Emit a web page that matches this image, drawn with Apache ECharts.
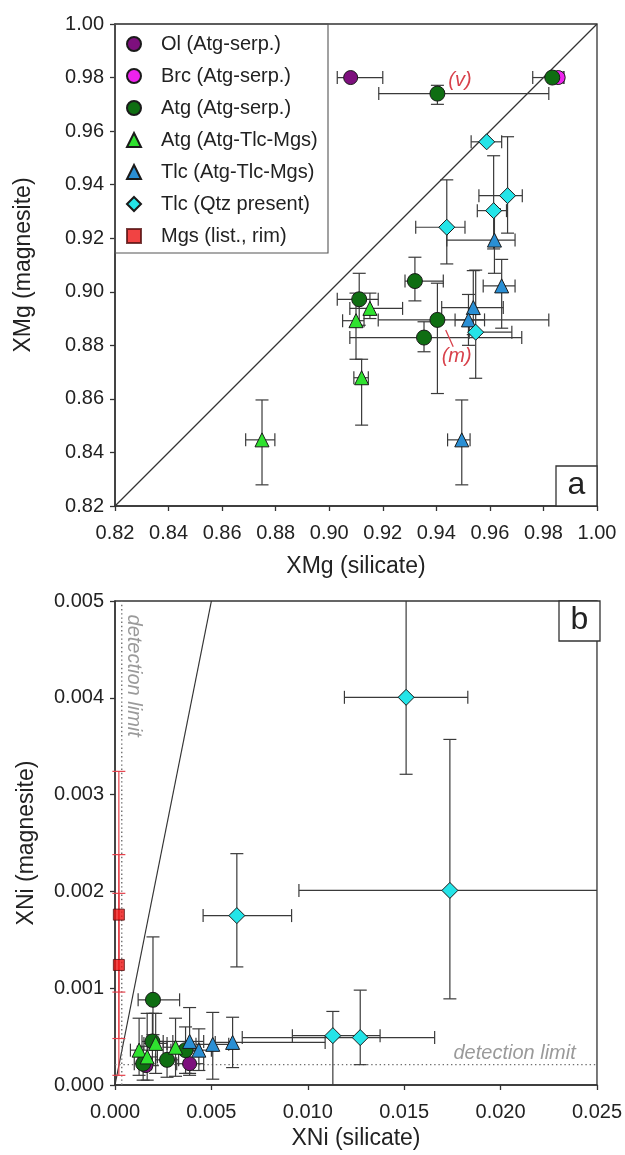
<!DOCTYPE html>
<html>
<head>
<meta charset="utf-8">
<script src="https://cdn.jsdelivr.net/npm/echarts@6/dist/echarts.min.js"></script>
<style>
  html, body { margin: 0; padding: 0; background: #fff; }
  #chart { width: 625px; height: 1155px; }
</style>
</head>
<body>
<div id="chart"></div>
<script>
// ---- categories -------------------------------------------------------
const groupNames = [
  'Ol (Atg-serp.)', 'Brc (Atg-serp.)', 'Atg (Atg-serp.)',
  'Atg (Atg-Tlc-Mgs)', 'Tlc (Atg-Tlc-Mgs)', 'Tlc (Qtz present)', 'Mgs (list., rim)'
];

// ---- panel a: XMg, rows are [x, y, xLow, xHigh, yLow, yHigh] -----------
const mgOl = [[0.908, 0.980, 0.903, 0.920, null, null]];
const mgBrc = [[0.9855, 0.980, 0.983, 0.9877, null, null]];
const mgAtgSerp = [
  [0.9404, 0.974, 0.9185, 0.982, 0.970, 0.9771],
  [0.9833, 0.980, 0.976, 0.9874, null, null],
  [0.9320, 0.9040, 0.9283, 0.9426, 0.8966, 0.9129],
  [0.9112, 0.8972, 0.903, 0.9183, 0.8875, 0.9069],
  [0.9404, 0.8895, 0.9183, 0.982, 0.862, 0.9032],
  [0.9354, 0.8829, 0.9077, 0.9719, 0.8776, 0.8888]
];
const mgAtgTlc = [
  [0.9152, 0.8938, 0.9077, 0.9274, 0.890, 0.8995],
  [0.9100, 0.8892, 0.905, 0.913, 0.8748, 0.8995],
  [0.9121, 0.8679, 0.9092, 0.9146, 0.8502, 0.8748],
  [0.8749, 0.8447, 0.8688, 0.8797, 0.8279, 0.8596]
];
const mgTlc = [
  [0.9617, 0.9193, 0.9439, 0.9694, 0.9069, 0.931],
  [0.9644, 0.9022, 0.9575, 0.9694, 0.8864, 0.9121],
  [0.9538, 0.8941, 0.942, 0.965, 0.884, 0.9079],
  [0.9520, 0.8895, 0.947, 0.958, 0.880, 0.899],
  [0.9495, 0.8447, 0.9442, 0.9526, 0.8279, 0.8596]
];
const mgTlcQtz = [
  [0.9588, 0.956, 0.953, 0.9644, null, null],
  [0.9666, 0.9359, 0.9559, 0.9721, 0.9219, 0.9579],
  [0.9614, 0.9303, 0.9553, 0.9662, 0.916, 0.9508],
  [0.9439, 0.9241, 0.9323, 0.9507, 0.9104, 0.9418],
  [0.9547, 0.8849, 0.9523, 0.9682, 0.8677, 0.9081]
];

// ---- panel b: XNi, rows are [x, y, xLow, xHigh, yLow, yHigh] -----------
const niOl = [
  [0.0016, 0.00020, null, null, null, null],
  [0.00387, 0.00022, 0.0032, 0.0046, 0.0001, 0.00035]
];
const niAtgSerp = [
  [0.00197, 0.00088, 0.0012, 0.00335, 0.00052, 0.00153],
  [0.00194, 0.00045, 0.0014, 0.0025, 0.0002, 0.00074],
  [0.00146, 0.00022, 0.0010, 0.0019, 0.00005, 0.0004],
  [0.0027, 0.00026, 0.0021, 0.0033, 0.00008, 0.00045],
  [0.00366, 0.00036, 0.0029, 0.0044, 0.00012, 0.0006]
];
const niAtgTlc = [
  [0.00125, 0.00036, 0.0008, 0.0017, 0.0001, 0.00069],
  [0.00167, 0.00029, 0.0012, 0.0022, 0.00005, 0.00074],
  [0.00211, 0.00043, 0.0015, 0.0027, 0.00012, 0.00074],
  [0.00314, 0.00039, 0.0025, 0.0038, 0.00009, 0.00069]
];
const niTlc = [
  [0.00387, 0.00045, 0.0030, 0.0046, 0.00012, 0.0008],
  [0.00435, 0.00036, 0.0037, 0.0050, 0.00015, 0.00058],
  [0.00507, 0.00042, 0.0042, 0.0059, 0.00006, 0.00075],
  [0.0061, 0.00044, 0.0052, 0.0109, 0.00018, 0.0007]
];
const niTlcQtz = [
  [0.0151, 0.004005, 0.0119, 0.0183, 0.00321, 0.0058],
  [0.01737, 0.00201, 0.00954, 0.0255, 0.00089, 0.00357],
  [0.00632, 0.00175, 0.00457, 0.00916, 0.00122, 0.00239],
  [0.0113, 0.00051, 0.0092, 0.01375, -0.0002, 0.00076],
  [0.01272, 0.00049, 0.0066, 0.01658, 0.00021, 0.00098]
];
const niMgs = [[0.0002, 0.00176], [0.0002, 0.00124]];
// vertical uncertainty bars of the rim analyses: [x, yLow, yHigh]
const niMgsBars = [[0.0002, 0.00048, 0.00324], [0.0002, 0.0001, 0.00238], [0.0002, 0.00096, 0.00198]];

// reference lines
const oneToOneA = [[0.82, 0.82], [1.0, 1.0]];
const oneToOneB = [[0, 0], [0.005, 0.005]];
const detectSilicate = 0.00035;   // XNi detection limit, silicate
const detectMagnesite = 0.00021;  // XNi detection limit, magnesite

// axis ranges / ticks
const axA = { min: 0.82, max: 1.00, step: 0.02 };
const axBx = { min: 0, max: 0.025, step: 0.005 };
const axBy = { min: 0, max: 0.005, step: 0.001 };

// ---- styling -----------------------------------------------------------
const FONT = '"Liberation Sans", Arial, Helvetica, sans-serif';
const INK = '#222';
const AXIS = '#333';
const ERR = '#3a3a3a';
const gridA = { left: 115, top: 24, width: 482, height: 482 };
const gridB = { left: 115, top: 601, width: 485, height: 484 };

const groupStyle = {
  'Ol (Atg-serp.)':    { symbol: 'circle',   size: 14, color: '#7d0f7d' },
  'Brc (Atg-serp.)':   { symbol: 'circle',   size: 14, color: '#ee22ee' },
  'Atg (Atg-serp.)':   { symbol: 'circle',   size: 15, color: '#0f6e12' },
  'Atg (Atg-Tlc-Mgs)': { symbol: 'triangle', size: 14, color: '#2fe22f' },
  'Tlc (Atg-Tlc-Mgs)': { symbol: 'triangle', size: 14, color: '#2a8fd4' },
  'Tlc (Qtz present)': { symbol: 'diamond',  size: 16, color: '#24e4e8' },
  'Mgs (list., rim)':  { symbol: 'rect',     size: 11, color: '#ee1414' }
};

// error bars (horizontal + vertical with caps), clipped to the plot box
function errorBarRenderer(rows, color, cap) {
  return function (params, api) {
    const r = rows[params.dataIndex];
    const cs = params.coordSys;
    const L = cs.x, R = cs.x + cs.width, T = cs.y, B = cs.y + cs.height;
    const c = api.coord([r[0], r[1]]);
    const style = { stroke: color, lineWidth: 1.2, fill: null };
    const kids = [];
    const seg = (x1, y1, x2, y2) => kids.push({ type: 'line', shape: { x1, y1, x2, y2 }, style });
    if (r[2] != null && r[3] != null) {
      let xl = api.coord([r[2], r[1]])[0], xh = api.coord([r[3], r[1]])[0];
      const capL = xl >= L - 0.5, capR = xh <= R + 0.5;
      xl = Math.max(xl, L); xh = Math.min(xh, R);
      seg(xl, c[1], xh, c[1]);
      if (capL) seg(xl, c[1] - cap, xl, c[1] + cap);
      if (capR) seg(xh, c[1] - cap, xh, c[1] + cap);
    }
    if (r[4] != null && r[5] != null) {
      let yb = api.coord([r[0], r[4]])[1], yt = api.coord([r[0], r[5]])[1];
      const capB = yb <= B + 0.5, capT = yt >= T - 0.5;
      yb = Math.min(yb, B); yt = Math.max(yt, T);
      seg(c[0], yb, c[0], yt);
      if (capB) seg(c[0] - cap, yb, c[0] + cap, yb);
      if (capT) seg(c[0] - cap, yt, c[0] + cap, yt);
    }
    return { type: 'group', children: kids };
  };
}

function vBarRenderer(rows, color, cap) {
  return function (params, api) {
    const r = rows[params.dataIndex];
    const lo = api.coord([r[0], r[1]]), hi = api.coord([r[0], r[2]]);
    const style = { stroke: color, lineWidth: 1.2, fill: null };
    return {
      type: 'group', children: [
        { type: 'line', shape: { x1: lo[0], y1: lo[1], x2: hi[0], y2: hi[1] }, style },
        { type: 'line', shape: { x1: lo[0] - cap, y1: lo[1], x2: lo[0] + cap, y2: lo[1] }, style },
        { type: 'line', shape: { x1: hi[0] - cap, y1: hi[1], x2: hi[0] + cap, y2: hi[1] }, style }
      ]
    };
  };
}

const series = [];
function addGroup(name, rows, gi) {
  const st = groupStyle[name];
  series.push({
    type: 'custom', name: 'err:' + name + ':' + gi, xAxisIndex: gi, yAxisIndex: gi,
    renderItem: errorBarRenderer(rows, ERR, 6.5),
    data: rows.map(r => [r[0], r[1]]), encode: { x: 0, y: 1 }, z: 2, silent: true
  });
  series.push({
    type: 'scatter', name, xAxisIndex: gi, yAxisIndex: gi,
    symbol: st.symbol, symbolSize: st.size,
    itemStyle: { color: st.color, borderColor: '#1a1a1a', borderWidth: 1, opacity: 1 },
    data: rows.map(r => [r[0], r[1]]), z: 3, silent: true
  });
}

// panel a
addGroup('Ol (Atg-serp.)', mgOl, 0);
addGroup('Brc (Atg-serp.)', mgBrc, 0);
addGroup('Atg (Atg-serp.)', mgAtgSerp, 0);
addGroup('Atg (Atg-Tlc-Mgs)', mgAtgTlc, 0);
addGroup('Tlc (Atg-Tlc-Mgs)', mgTlc, 0);
addGroup('Tlc (Qtz present)', mgTlcQtz, 0);
// panel b
addGroup('Ol (Atg-serp.)', niOl, 1);
addGroup('Atg (Atg-serp.)', niAtgSerp, 1);
addGroup('Atg (Atg-Tlc-Mgs)', niAtgTlc, 1);
addGroup('Tlc (Atg-Tlc-Mgs)', niTlc, 1);
addGroup('Tlc (Qtz present)', niTlcQtz, 1);
series.push({
  type: 'custom', name: 'err:mgs', xAxisIndex: 1, yAxisIndex: 1,
  renderItem: vBarRenderer(niMgsBars, '#e6424c', 6.5),
  data: niMgsBars.map(r => [r[0], r[1]]), encode: { x: 0, y: 1 }, z: 2, silent: true
});
series.push({
  type: 'scatter', name: 'Mgs (list., rim)', xAxisIndex: 1, yAxisIndex: 1,
  symbol: 'rect', symbolSize: groupStyle['Mgs (list., rim)'].size,
  itemStyle: { color: groupStyle['Mgs (list., rim)'].color, borderColor: '#551010', borderWidth: 1 },
  data: niMgs, z: 3, silent: true
});

// reference lines
function refLine(data, gi, style) {
  series.push({
    type: 'line', xAxisIndex: gi, yAxisIndex: gi, data, symbol: 'none',
    lineStyle: style, z: 1, silent: true, animation: false
  });
}
refLine(oneToOneA, 0, { color: AXIS, width: 1.2 });
refLine(oneToOneB, 1, { color: AXIS, width: 1.2 });
refLine([[detectSilicate, axBy.min], [detectSilicate, axBy.max]], 1, { color: '#6f6f6f', width: 1.4, type: [1.4, 2.8] });
refLine([[axBx.min, detectMagnesite], [axBx.max, detectMagnesite]], 1, { color: '#6f6f6f', width: 1.4, type: [1.4, 2.8] });

function valueAxis(gi, ax, name, dec, gap, pos) {
  return {
    type: 'value', gridIndex: gi, min: ax.min, max: ax.max, interval: ax.step, position: pos,
    name, nameLocation: 'middle', nameGap: gap,
    nameTextStyle: { fontSize: 23, color: INK, fontFamily: FONT },
    axisLine: { show: true, onZero: false, lineStyle: { color: AXIS, width: 1.5 } },
    axisTick: { show: true, inside: false, length: 5, lineStyle: { color: AXIS, width: 1.3 } },
    axisLabel: { fontSize: 20, color: INK, fontFamily: FONT, margin: pos === 'bottom' ? 17 : 11,
                 formatter: v => v.toFixed(dec) },
    splitLine: { show: false }
  };
}

const option = {
  animation: false,
  backgroundColor: '#fff',
  textStyle: { fontFamily: FONT },
  grid: [
    Object.assign({ show: true, borderColor: AXIS, borderWidth: 1.3, backgroundColor: 'transparent' }, gridA),
    Object.assign({ show: true, borderColor: AXIS, borderWidth: 1.3, backgroundColor: 'transparent' }, gridB)
  ],
  xAxis: [
    valueAxis(0, axA, 'XMg (silicate)', 2, 49, 'bottom'),
    valueAxis(1, axBx, 'XNi (silicate)', 3, 42, 'bottom')
  ],
  yAxis: [
    valueAxis(0, axA, 'XMg (magnesite)', 2, 80, 'left'),
    valueAxis(1, axBy, 'XNi (magnesite)', 3, 77, 'left')
  ],
  legend: {
    data: groupNames, orient: 'vertical', left: 126, top: 34, padding: 0,
    itemWidth: 14, itemHeight: 14, itemGap: 12, selectedMode: false,
    textStyle: { fontSize: 20, lineHeight: 20, color: INK, fontFamily: FONT, padding: [0, 0, 0, 15] }
  },
  series
};

const chart = echarts.init(document.getElementById('chart'), null, { renderer: 'canvas' });
chart.setOption(option);

// annotations placed in data coordinates
const pa = p => chart.convertToPixel({ gridIndex: 0 }, p);
const pb = p => chart.convertToPixel({ gridIndex: 1 }, p);
const RED = '#d8414b';
const vPos = pa([0.9488, 0.9791]);
const mPos = pa([0.9476, 0.876]);
const mLead0 = pa([0.9435, 0.8857]);
const mLead1 = pa([0.9463, 0.8795]);
const detH = pb([0.0239, 0.00033]);
const detV = pb([0.00098, 0.00486]);

function panelTag(letter, x, y) {
  return [
    { type: 'rect', shape: { x, y, width: 41, height: 40 }, style: { fill: '#fff', stroke: AXIS, lineWidth: 1.3 }, z: 10 },
    { type: 'text', x: x + 20.5, y: y + 19, z: 11,
      style: { text: letter, fontSize: 32, fontFamily: FONT, fill: INK, align: 'center', verticalAlign: 'middle',
               textAlign: 'center', textVerticalAlign: 'middle' } }
  ];
}

chart.setOption({
  graphic: [
    // legend frame
    { type: 'rect', shape: { x: gridA.left, y: gridA.top, width: 213, height: 229 },
      style: { fill: 'none', stroke: '#555', lineWidth: 1.1 }, z: 5 },
    ...panelTag('a', gridA.left + gridA.width - 41, gridA.top + gridA.height - 40),
    ...panelTag('b', gridB.left + gridB.width - 41, gridB.top),
    { type: 'text', x: vPos[0], y: vPos[1], z: 12,
      style: { text: '(v)', fontSize: 20, fontStyle: 'italic', fontFamily: FONT, fill: RED,
               align: 'center', verticalAlign: 'middle', textAlign: 'center', textVerticalAlign: 'middle' } },
    { type: 'text', x: mPos[0], y: mPos[1], z: 12,
      style: { text: '(m)', fontSize: 20, fontStyle: 'italic', fontFamily: FONT, fill: RED,
               align: 'center', verticalAlign: 'middle', textAlign: 'center', textVerticalAlign: 'middle' } },
    { type: 'line', shape: { x1: mLead0[0], y1: mLead0[1], x2: mLead1[0], y2: mLead1[1] },
      style: { stroke: RED, lineWidth: 1.3 }, z: 12 },
    { type: 'text', x: detH[0], y: detH[1], z: 12,
      style: { text: 'detection limit', fontSize: 20, fontStyle: 'italic', fontFamily: FONT, fill: '#9a9a9a',
               align: 'right', verticalAlign: 'middle', textAlign: 'right', textVerticalAlign: 'middle' } },
    { type: 'text', x: detV[0], y: detV[1], rotation: -Math.PI / 2, z: 12,
      style: { text: 'detection limit', fontSize: 20, fontStyle: 'italic', fontFamily: FONT, fill: '#9a9a9a',
               align: 'left', verticalAlign: 'middle', textAlign: 'left', textVerticalAlign: 'middle' } }
  ]
});
</script>
</body>
</html>
